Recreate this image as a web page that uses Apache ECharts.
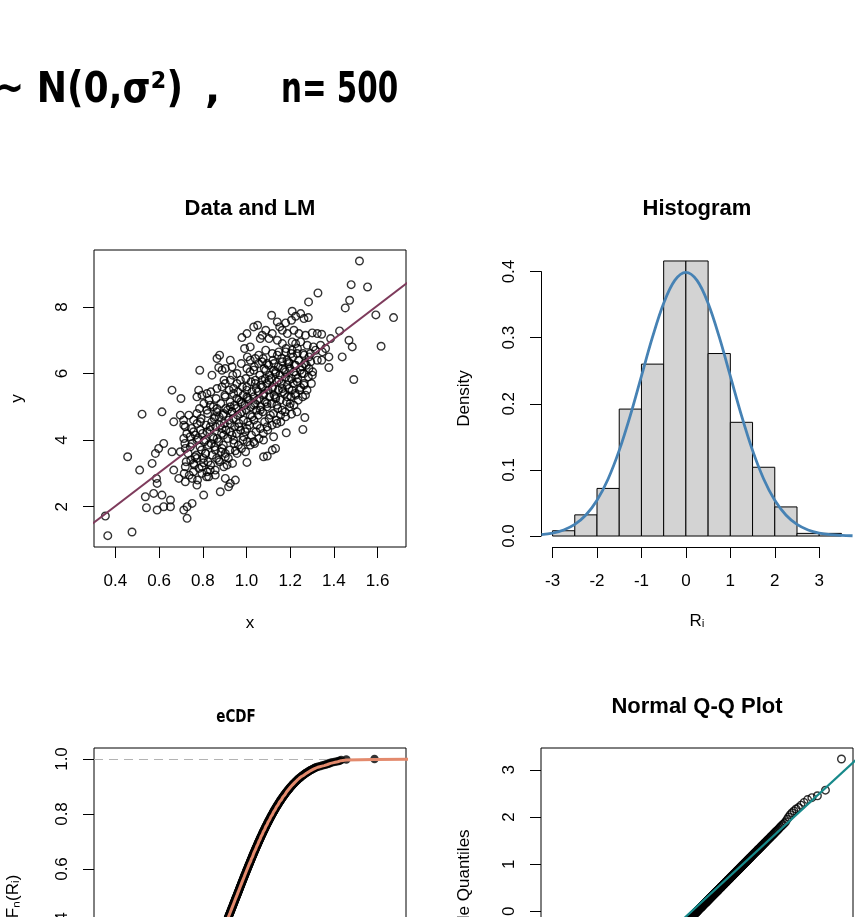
<!DOCTYPE html>
<html><head><meta charset="utf-8">
<script src="https://cdn.jsdelivr.net/npm/echarts@6/dist/echarts.min.js"></script>
<style>html,body{margin:0;padding:0;background:#fff}#c{width:856px;height:917px}</style>
</head><body><div id="c"></div>
<script>
// ---------------- DATA ----------------
// Panel 1: scatter of (x, y) pairs
const scatterPoints = [
[1.517,9.38],[1.479,8.67],[1.554,8.60],[1.327,8.42],
[1.284,8.15],[1.472,8.20],[1.452,7.97],[1.209,7.87],[1.225,7.72],[1.248,7.80],[1.263,7.65],[1.592,7.76],
[1.115,7.75],[1.673,7.68],[1.141,7.55],[1.179,7.52],[1.206,7.60],[1.283,7.68],[1.051,7.45],[1.033,7.40],[1.152,7.40],
[1.002,7.20],[0.979,7.08],[1.063,7.05],[1.088,7.30],[1.118,7.20],[1.103,7.05],[1.072,7.15],[1.164,7.30],[1.187,7.20],[1.217,7.30],[1.240,7.20],[1.270,7.15],[1.301,7.22],[1.324,7.20],[1.344,7.18],[1.426,7.28],[1.385,7.05],
[1.469,7.00],[1.484,6.80],[1.616,6.82],[1.141,7.00],[1.164,6.90],[1.209,6.95],[1.248,6.95],[1.278,6.85],[1.339,6.85],[1.362,6.75],[1.316,6.70],[1.347,6.65],[0.991,6.75],[1.017,6.80],[1.088,6.70],[1.118,6.60],[1.148,6.65],[1.179,6.65],[1.209,6.70],[1.232,6.60],[1.263,6.55],[1.293,6.60],
[0.877,6.55],[0.865,6.45],[0.926,6.40],[1.017,6.40],[1.040,6.45],[1.055,6.30],[1.072,6.35],[1.095,6.30],[1.126,6.30],[1.164,6.35],[1.194,6.30],[1.225,6.25],[1.255,6.20],[1.286,6.15],[1.324,6.40],[1.344,6.40],[1.438,6.50],[1.377,6.50],[1.377,6.18],
[0.786,6.10],[0.842,5.95],[0.873,6.18],[0.888,6.10],[0.903,6.15],[0.934,6.20],[0.956,6.00],[0.926,5.80],[1.002,6.15],[1.033,6.10],[1.088,6.10],[1.133,6.05],[1.179,6.05],[1.217,6.05],[1.263,6.00],[1.301,5.95],[1.491,5.82],
[0.972,5.80],[1.002,5.60],[1.040,5.70],[1.071,5.80],[1.103,5.80],[1.148,5.80],[1.194,5.80],[1.232,5.75],[1.263,5.70],[1.118,5.55],[1.164,5.55],[1.209,5.50],[1.248,5.58],[0.659,5.50],[0.781,5.50],[0.796,5.35],[0.819,5.40],[0.865,5.55],[0.903,5.70],[0.941,5.55],
[1.270,5.35],[1.225,5.35],[1.187,5.30],[1.133,5.30],[0.700,5.25],[0.773,5.30],[0.834,5.05],[0.903,5.30],[0.956,5.25],[1.002,5.30],[1.048,5.20],[1.078,5.35],[0.979,5.10],[0.926,5.00],[1.033,5.05],[1.094,5.10],[1.139,5.05],[1.200,5.10],
[0.522,4.78],[0.613,4.85],[0.697,4.75],[0.667,4.55],[0.712,4.60],[0.773,4.80],[0.819,4.90],[0.865,4.95],[0.857,4.70],[0.895,4.80],[0.934,4.85],[0.972,4.80],[1.017,4.75],[1.063,4.90],[1.109,4.75],[1.156,4.75],[1.179,4.70],[1.206,4.78],[1.231,4.85],[1.267,4.68],
[0.720,4.40],[0.758,4.25],[0.789,4.30],[0.834,4.40],[0.888,4.35],[0.926,4.50],[0.964,4.40],[1.002,4.35],[1.048,4.45],[1.094,4.40],[1.139,4.50],[1.258,4.32],[1.182,4.22],[0.789,4.55],
[0.621,3.90],[0.598,3.75],[0.583,3.60],[0.713,4.05],[0.720,3.75],[0.773,4.00],[0.743,3.80],[0.812,4.00],[0.850,4.05],[0.895,4.15],[0.941,4.00],[0.987,4.10],[1.033,3.95],[1.078,4.00],[1.124,4.10],[1.133,3.75],[1.095,3.52],[1.118,3.70],[0.659,3.65],
[0.456,3.50],[0.697,3.65],[0.773,3.45],[0.812,3.60],[0.857,3.70],[0.903,3.60],[0.949,3.68],[0.888,3.75],[1.002,3.33],[1.078,3.50],
[0.511,3.10],[0.568,3.30],[0.667,3.10],[0.720,3.20],[0.758,3.30],[0.804,3.32],[0.873,3.40],[0.911,3.25],[0.834,3.10],[0.796,3.00],[0.819,3.05],
[0.588,2.85],[0.591,2.70],[0.690,2.85],[0.720,2.75],[0.751,2.85],[0.773,2.65],[0.827,2.90],[0.857,2.95],[0.903,2.85],[0.926,2.70],[0.949,2.80],[0.918,2.60],
[0.537,2.30],[0.575,2.40],[0.613,2.35],[0.652,2.20],[0.652,2.00],[0.621,2.00],[0.542,1.97],[0.591,1.90],[0.804,2.35],[0.880,2.45],[0.751,2.10],[0.728,2.00],[0.713,1.90],[0.728,1.65],
[0.354,1.72],[0.365,1.13],[0.476,1.24],
[0.715,3.0],[0.724,3.35],[0.718,3.9],[0.727,4.2],[0.713,4.45],
[0.738,2.95],[0.745,3.4],[0.733,3.6],[0.742,4.1],[0.748,4.35],[0.736,4.75],
[0.757,3.05],[0.764,3.5],[0.752,3.9],[0.766,4.15],[0.758,4.6],[0.761,3.25],
[0.776,2.8],[0.783,3.15],[0.771,3.55],[0.787,3.8],[0.779,4.05],[0.774,4.5],[0.785,4.95],
[0.797,3.2],[0.803,3.45],[0.794,3.7],[0.806,3.95],[0.799,4.2],[0.792,4.65],[0.805,5.1],
[0.817,2.9],[0.824,3.35],[0.813,3.6],[0.826,3.85],[0.819,4.25],[0.815,4.45],[0.822,4.8],[0.828,5.2],
[0.836,3.25],[0.843,3.55],[0.838,3.9],[0.846,4.1],[0.833,4.3],[0.841,4.55],[0.848,5.0],[0.837,5.45],
[0.857,3.1],[0.863,3.45],[0.854,3.8],[0.866,4.05],[0.859,4.4],[0.852,4.65],[0.864,4.85],[0.861,5.25],
[0.877,3.35],[0.884,3.65],[0.873,3.95],[0.886,4.2],[0.879,4.45],[0.875,4.7],[0.882,5.1],[0.888,5.6],
[0.896,3.2],[0.903,3.5],[0.894,3.85],[0.906,4.3],[0.899,4.5],[0.893,4.75],[0.905,4.95],[0.901,5.35],[0.897,5.8],
[0.917,3.45],[0.923,3.7],[0.914,4.05],[0.926,4.25],[0.919,4.6],[0.913,4.9],[0.925,5.15],[0.921,5.5],
[0.936,3.3],[0.943,3.9],[0.934,4.15],[0.946,4.4],[0.939,4.65],[0.933,4.85],[0.945,5.05],[0.941,5.4],[0.937,5.95],
[0.957,3.6],[0.963,3.85],[0.954,4.2],[0.966,4.5],[0.959,4.75],[0.953,4.95],[0.965,5.2],[0.961,5.45],[0.956,5.7],
[0.977,3.75],[0.984,4.0],[0.973,4.3],[0.986,4.6],[0.979,4.85],[0.974,5.15],[0.985,5.35],[0.981,5.6],[0.976,6.3],
[0.996,3.65],[1.003,3.95],[0.994,4.25],[1.006,4.55],[0.999,4.9],[0.993,5.05],[1.005,5.25],[1.001,5.5],[0.997,5.85],[1.004,6.5],
[1.017,3.85],[1.023,4.15],[1.014,4.45],[1.026,4.7],[1.019,5.0],[1.013,5.2],[1.025,5.45],[1.021,5.75],[1.016,6.05],
[1.037,3.9],[1.043,4.25],[1.034,4.6],[1.046,4.9],[1.039,5.1],[1.033,5.3],[1.045,5.55],[1.041,5.8],[1.036,6.2],
[1.057,4.05],[1.063,4.35],[1.054,4.75],[1.066,5.0],[1.059,5.25],[1.053,5.45],[1.065,5.65],[1.061,5.95],[1.056,6.55],
[1.077,4.2],[1.083,4.55],[1.074,4.85],[1.086,5.15],[1.079,5.4],[1.073,5.6],[1.085,5.85],[1.081,6.15],[1.076,6.45],
[1.097,4.3],[1.103,4.65],[1.094,5.0],[1.106,5.3],[1.099,5.5],[1.093,5.7],[1.105,5.95],[1.101,6.25],
[1.117,4.45],[1.123,4.8],[1.114,5.1],[1.126,5.35],[1.119,5.6],[1.113,5.85],[1.125,6.1],[1.121,6.4],
[1.137,4.6],[1.143,4.95],[1.134,5.25],[1.146,5.5],[1.139,5.75],[1.133,6.0],[1.145,6.2],[1.141,6.55],
[1.157,4.55],[1.163,4.9],[1.154,5.2],[1.166,5.45],[1.159,5.7],[1.153,5.95],[1.165,6.15],[1.161,6.45],
[1.177,4.85],[1.183,5.15],[1.174,5.4],[1.186,5.65],[1.179,5.9],[1.173,6.1],[1.185,6.4],[1.181,6.75],
[1.197,5.0],[1.203,5.3],[1.194,5.55],[1.206,5.85],[1.199,6.15],[1.193,6.35],[1.205,6.6],
[1.217,5.05],[1.223,5.4],[1.214,5.7],[1.226,5.95],[1.219,6.25],[1.213,6.5],[1.225,6.9],
[1.237,5.2],[1.243,5.5],[1.234,5.85],[1.246,6.1],[1.239,6.4],[1.233,6.75],
[1.257,5.3],[1.263,5.65],[1.254,6.0],[1.266,6.3],[1.259,6.6],
[1.277,5.5],[1.283,5.9],[1.274,6.25],[1.286,6.5],
[1.297,5.7],[1.303,6.05],[1.294,6.35],[1.306,6.8]
];
// fitted regression line (end points)
const lmLine = [[0.25, 1.265], [1.80, 9.046]];
const scatterXTicks = [0.4, 0.6, 0.8, 1.0, 1.2, 1.4, 1.6];
const scatterYTicks = [2, 4, 6, 8];

// Panel 2: histogram of residuals (density) + normal curve
const histBreaks  = [-3, -2.5, -2, -1.5, -1, -0.5, 0, 0.5, 1, 1.5, 2, 2.5, 3, 3.5];
const histDensity = [0.008, 0.032, 0.072, 0.192, 0.26, 0.416, 0.416, 0.276, 0.172, 0.104, 0.044, 0.004, 0.004];
const normX       = [-3.25,-3,-2.75,-2.5,-2.25,-2,-1.75,-1.5,-1.25,-1,-0.75,-0.5,-0.25,0,0.25,0.5,0.75,1,1.25,1.5,1.75,2,2.25,2.5,2.75,3,3.25,3.5,3.75];
const normDensity = [0.0020,0.0044,0.0091,0.0175,0.0317,0.0540,0.0863,0.1295,0.1826,0.2420,0.3011,0.3521,0.3867,0.3989,0.3867,0.3521,0.3011,0.2420,0.1826,0.1295,0.0863,0.0540,0.0317,0.0175,0.0091,0.0044,0.0020,0.0009,0.0004];
const histXTicks = [-3, -2, -1, 0, 1, 2, 3];
const histYTicks = [0, 0.1, 0.2, 0.3, 0.4];

// Panels 3 & 4: sorted residuals R_i (n = 500), estimated from the eCDF / Q-Q picture
const residualsLow = [
-2.58,-2.52,-2.43,-2.36,-2.29,-2.23,-2.18,-2.13,-2.09,-2.05,-2.01,-1.98,-1.95,-1.92,-1.89,
-1.866,-1.841,-1.815,-1.790,-1.765,-1.739,-1.718,-1.698,-1.677,-1.656,-1.635,-1.617,-1.600,-1.582,-1.564,
-1.546,-1.531,-1.515,-1.500,-1.484,-1.468,-1.454,-1.440,-1.426,-1.412,-1.398,-1.386,-1.373,-1.360,-1.347,
-1.335,-1.323,-1.311,-1.300,-1.288,-1.276,-1.265,-1.255,-1.244,-1.234,-1.223,-1.212,-1.202,-1.191,-1.181,
-1.170,-1.161,-1.151,-1.142,-1.132,-1.123,-1.114,-1.104,-1.095,-1.085,-1.076,-1.067,-1.058,-1.050,-1.041,
-1.033,-1.024,-1.016,-1.007,-0.999,-0.990,-0.983,-0.975,-0.967,-0.959,-0.951,-0.943,-0.935,-0.927,-0.919,
-0.911,-0.904,-0.896,-0.889,-0.882,-0.875,-0.867,-0.860,-0.853,-0.845,-0.838,-0.831,-0.824,-0.817,-0.811,
-0.804,-0.797,-0.790,-0.783,-0.776,-0.769,-0.762,-0.756,-0.749,-0.743,-0.736,-0.730,-0.723,-0.716,-0.710,
-0.703,-0.697,-0.691,-0.684,-0.678,-0.672,-0.665,-0.659,-0.653,-0.647,-0.640,-0.634,-0.628,-0.622,-0.616,
-0.610,-0.604,-0.598,-0.592,-0.586,-0.580,-0.574,-0.568,-0.562,-0.557,-0.551,-0.545,-0.539,-0.533,-0.527,
-0.522,-0.516,-0.510,-0.505,-0.499,-0.493,-0.488,-0.482,-0.476,-0.471,-0.465,-0.459,-0.454,-0.448,-0.443,
-0.437,-0.432,-0.426,-0.421,-0.415,-0.410,-0.404,-0.399,-0.394,-0.388,-0.383,-0.377,-0.372,-0.367,-0.361,
-0.356,-0.351,-0.345,-0.340,-0.335,-0.330,-0.324,-0.319,-0.314,-0.308,-0.303,-0.298,-0.293,-0.287,-0.282,
-0.277,-0.272,-0.266,-0.261,-0.256,-0.251,-0.246,-0.240,-0.235,-0.230,-0.225,-0.220,-0.215,-0.210,-0.204,
-0.199,-0.194,-0.189,-0.184,-0.179,-0.174,-0.169,-0.164,-0.158,-0.153,-0.148,-0.143,-0.138,-0.133,-0.128,
-0.123,-0.118,-0.113,-0.108,-0.103,-0.098,-0.093,-0.088,-0.083,-0.078,-0.073,-0.068,-0.063,-0.058,-0.053,
-0.048,-0.043,-0.038,-0.033,-0.028,-0.023,-0.018,-0.013,-0.008,-0.003
];
const residualsHigh = [
0.003,0.008,0.013,0.018,0.023,0.028,0.033,0.038,0.043,0.048,
0.053,0.058,0.063,0.068,0.073,0.078,0.083,0.088,0.093,0.098,
0.103,0.108,0.113,0.118,0.123,0.128,0.133,0.138,0.143,0.148,
0.153,0.158,0.164,0.169,0.174,0.179,0.184,0.189,0.194,0.199,
0.204,0.210,0.215,0.220,0.225,0.230,0.235,0.240,0.246,0.251,
0.256,0.261,0.266,0.272,0.277,0.282,0.287,0.293,0.298,0.303,
0.308,0.314,0.319,0.324,0.330,0.335,0.340,0.345,0.351,0.356,
0.361,0.367,0.372,0.377,0.383,0.388,0.394,0.399,0.404,0.410,
0.415,0.421,0.426,0.432,0.437,0.443,0.448,0.454,0.459,0.465,
0.471,0.476,0.482,0.488,0.493,0.499,0.505,0.510,0.516,0.522,
0.527,0.533,0.539,0.545,0.551,0.557,0.562,0.568,0.574,0.580,
0.586,0.592,0.598,0.604,0.610,0.616,0.622,0.628,0.634,0.640,
0.647,0.653,0.659,0.665,0.672,0.678,0.684,0.691,0.697,0.703,
0.710,0.716,0.723,0.730,0.736,0.743,0.749,0.756,0.762,0.769,
0.776,0.783,0.790,0.797,0.804,0.811,0.817,0.824,0.831,0.838,
0.845,0.853,0.860,0.867,0.875,0.882,0.889,0.896,0.904,0.911,
0.919,0.927,0.935,0.943,0.951,0.959,0.967,0.975,0.983,0.990,
0.999,1.007,1.016,1.024,1.033,1.041,1.050,1.058,1.067,1.076,
1.085,1.095,1.104,1.114,1.123,1.132,1.142,1.151,1.161,1.170,
1.181,1.191,1.202,1.212,1.223,1.234,1.244,1.255,1.265,1.276,
1.288,1.300,1.311,1.323,1.335,1.347,1.360,1.373,1.386,1.398,
1.412,1.426,1.440,1.454,1.468,1.484,1.500,1.515,1.531,1.546,
1.564,1.582,1.600,1.617,1.635,1.656,1.677,1.698,1.718,1.739,
1.765,1.790,1.815,1.841,1.866,
1.90,1.95,2.00,2.05,2.09,2.13,2.17,2.20,2.25,2.31,2.37,2.41,2.45,2.57,3.23
];
const ecdfYTicks = [0, 0.2, 0.4, 0.6, 0.8, 1.0];
const ecdfRefLevels = [0, 1];
const qqLine = [[-3.5, -3.093], [3.5, 3.305]];
const qqYTicks = [-2, -1, 0, 1, 2, 3];
const qqXTicks = [-3, -2, -1, 0, 1, 2, 3];

// ---------------- LAYOUT / STYLE ----------------
const FONT = "'Liberation Sans', Arial, Helvetica, sans-serif";
const PW = 312, PH = 297;
const POS = { scatter:[94,250], hist:[541,250], ecdf:[94,748], qq:[541,748] };
const R = {
  scatterX:[0.302,1.73], scatterY:[0.79,9.71],
  histX:[-3.26,3.76], histY:[-0.0166,0.4326],
  ecdfX:[-3.337,3.967], ecdfY:[-0.04,1.04],
  qqX:[-3.337,3.337], qqY:[-2.833,3.463]
};
const C = { lm:'#7E3B5C', curve:'#4682B4', salmon:'#E38A6D', teal:'#17898A', bar:'#D3D3D3' };

// standard normal quantile (Acklam) for the Q-Q plot's theoretical axis
function qnorm(p){
  const a=[-3.969683028665376e+01,2.209460984245205e+02,-2.759285104469687e+02,1.383577518672690e+02,-3.066479806614716e+01,2.506628277459239e+00];
  const b=[-5.447609879822406e+01,1.615858368580409e+02,-1.556989798598866e+02,6.680131188771972e+01,-1.328068155288572e+01];
  const c=[-7.784894002430293e-03,-3.223964580411365e-01,-2.400758277161838e+00,-2.549732539343734e+00,4.374664141464968e+00,2.938163982698783e+00];
  const d=[7.784695709041462e-03,3.224671290700398e-01,2.445134137142996e+00,3.754408661907416e+00];
  const pl=0.02425;
  let q,r;
  if(p<pl){q=Math.sqrt(-2*Math.log(p));return (((((c[0]*q+c[1])*q+c[2])*q+c[3])*q+c[4])*q+c[5])/((((d[0]*q+d[1])*q+d[2])*q+d[3])*q+1);}
  if(p<=1-pl){q=p-0.5;r=q*q;return (((((a[0]*r+a[1])*r+a[2])*r+a[3])*r+a[4])*r+a[5])*q/(((((b[0]*r+b[1])*r+b[2])*r+b[3])*r+b[4])*r+1);}
  q=Math.sqrt(-2*Math.log(1-p));return -(((((c[0]*q+c[1])*q+c[2])*q+c[3])*q+c[4])*q+c[5])/((((d[0]*q+d[1])*q+d[2])*q+d[3])*q+1);
}

const residuals = residualsLow.concat(residualsHigh);
const n = residuals.length;
const ecdfPts = residuals.map((v,i)=>[v,(i+1)/n]);
const ecdfStep = [[R.ecdfX[0]-1,0]].concat(ecdfPts,[[R.ecdfX[1]+1,1]]);
const qqPts = residuals.map((v,i)=>[qnorm((i+0.5)/n), v]);
const histData = histDensity.map((d,i)=>[histBreaks[i],histBreaks[i+1],d]);
const normCurve = normX.map((x,i)=>[x,normDensity[i]]);

// histogram axis grid spans only the tick range (R draws axis lines tick-to-tick)
const hpx = PW/(R.histX[1]-R.histX[0]), hpy = PH/(R.histY[1]-R.histY[0]);
const hYMax = histYTicks[histYTicks.length-1];
const hAx = {
  left: POS.hist[0] + (histXTicks[0]-R.histX[0])*hpx,
  width: (histXTicks[histXTicks.length-1]-histXTicks[0])*hpx,
  top: POS.hist[1] + (R.histY[1]-hYMax)*hpy,
  height: (hYMax-histYTicks[0])*hpy
};
const hOffX = (POS.hist[1]+PH) - (hAx.top+hAx.height);
const hOffY = hAx.left - POS.hist[0];

const txt = {fontSize:17, color:'#000', fontFamily:FONT};
const XLAB_MARGIN = 26, YLAB_MARGIN = 23, XNAME_GAP = 68, YNAME_GAP = 68;
function grid(p, border){
  return {left:p[0], top:p[1], width:PW, height:PH, show:border, borderColor:'#000', borderWidth:1,
          backgroundColor:'transparent', containLabel:false, outerBoundsMode:'none'};
}
function boxAxis(gi, range, ticks, fmt, name, isY, nameGap){
  return {
    gridIndex:gi, type:'value', min:range[0], max:range[1],
    axisLine:{show:false, onZero:false},
    axisTick:{show:true, length:11, customValues:ticks, lineStyle:{color:'#000', width:1}},
    axisLabel:Object.assign({show:true, customValues:ticks, formatter:fmt, margin:isY?YLAB_MARGIN:XLAB_MARGIN, rotate:isY?90:0}, txt),
    splitLine:{show:false},
    name:name, nameLocation:'middle', nameGap:nameGap, nameRotate:isY?90:0,
    nameTextStyle:Object.assign({}, txt)
  };
}
const f1 = v=>Number(v).toFixed(1);
const f0 = v=>String(Math.round(v));
const titleStyle = {fontSize:22, fontWeight:'bold', fontFamily:FONT, color:'#000'};
const ringStyle = {color:'rgba(0,0,0,0)', borderColor:'#000', borderWidth:1.4};

const option = {
  animation:false,
  backgroundColor:'#fff',
  title:[
    {text:'Data and LM', left:250, top:198, textAlign:'center', padding:0, textStyle:titleStyle},
    {text:'Histogram', left:697, top:198, textAlign:'center', padding:0, textStyle:titleStyle},
    {text:'Normal Q-Q Plot', left:697, top:696, textAlign:'center', padding:0, textStyle:titleStyle}
  ],
  graphic:[
    {type:'text', x:-6, y:112, scaleX:0.86, style:{text:'~ N(0,σ²)', font:"bold 42px 'DejaVu Sans'", fill:'#000', verticalAlign:'bottom'}},
    {type:'text', x:205, y:112, style:{text:',', font:"bold 40px 'DejaVu Sans'", fill:'#000', verticalAlign:'bottom'}},
    {type:'text', x:281, y:112, scaleX:0.7, style:{text:'n= 500', font:"bold 42px 'DejaVu Sans'", fill:'#000', verticalAlign:'bottom'}},
    {type:'text', x:236, y:717, scaleX:0.75, style:{text:'eCDF', font:"bold 18px 'DejaVu Sans'", fill:'#000', align:'center', verticalAlign:'middle'}}
  ],
  grid:[
    grid(POS.scatter, true),
    grid(POS.hist, false),
    {left:hAx.left, top:hAx.top, width:hAx.width, height:hAx.height, show:false, containLabel:false, outerBoundsMode:'none'},
    grid(POS.ecdf, true),
    grid(POS.qq, true)
  ],
  xAxis:[
    boxAxis(0, R.scatterX, scatterXTicks, f1, 'x', false, XNAME_GAP),
    {gridIndex:1, type:'value', min:R.histX[0], max:R.histX[1], axisLine:{show:false, onZero:false}, axisTick:{show:false}, axisLabel:{show:false}, splitLine:{show:false},
     name:'Rᵢ', nameLocation:'middle', nameGap:XNAME_GAP-2, nameTextStyle:Object.assign({}, txt)},
    {gridIndex:2, type:'value', min:histXTicks[0], max:histXTicks[histXTicks.length-1], interval:1, offset:hOffX,
     axisLine:{show:true, onZero:false, lineStyle:{color:'#000', width:1}}, axisTick:{show:true, length:11, lineStyle:{color:'#000'}},
     axisLabel:Object.assign({margin:XLAB_MARGIN, formatter:f0}, txt), splitLine:{show:false}},
    boxAxis(3, R.ecdfX, qqXTicks, f0, 'Rᵢ', false, XNAME_GAP),
    boxAxis(4, R.qqX, qqXTicks, f0, 'Theoretical Quantiles', false, XNAME_GAP)
  ],
  yAxis:[
    boxAxis(0, R.scatterY, scatterYTicks, f0, 'y', true, YNAME_GAP),
    {gridIndex:1, type:'value', min:R.histY[0], max:R.histY[1], axisLine:{show:false, onZero:false}, axisTick:{show:false}, axisLabel:{show:false}, splitLine:{show:false},
     name:'Density', nameLocation:'middle', nameGap:YNAME_GAP, nameRotate:90, nameTextStyle:Object.assign({}, txt)},
    {gridIndex:2, type:'value', min:histYTicks[0], max:hYMax, interval:0.1, offset:hOffY,
     axisLine:{show:true, onZero:false, lineStyle:{color:'#000', width:1}}, axisTick:{show:true, length:11, lineStyle:{color:'#000'}},
     axisLabel:Object.assign({margin:YLAB_MARGIN, rotate:90, formatter:f1}, txt), splitLine:{show:false}},
    boxAxis(3, R.ecdfY, ecdfYTicks, f1, 'Fₙ(Rᵢ)', true, YNAME_GAP+4),
    boxAxis(4, R.qqY, qqYTicks, f0, 'Sample Quantiles', true, YNAME_GAP)
  ],
  series:[
    {type:'scatter', xAxisIndex:0, yAxisIndex:0, data:scatterPoints, symbol:'circle', symbolSize:7.6, silent:true,
     itemStyle:ringStyle, z:2},
    {type:'line', xAxisIndex:0, yAxisIndex:0, data:lmLine, symbol:'none', clip:true, silent:true,
     lineStyle:{color:C.lm, width:2}, z:3},
    {type:'custom', xAxisIndex:1, yAxisIndex:1, data:histData, encode:{x:[0,1], y:2}, silent:true, clip:false,
     renderItem:(params, api)=>{
       const p0 = api.coord([api.value(0), api.value(2)]);
       const p1 = api.coord([api.value(1), 0]);
       return {type:'rect', shape:{x:p0[0], y:p0[1], width:p1[0]-p0[0], height:p1[1]-p0[1]},
               style:{fill:C.bar, stroke:'#000', lineWidth:1}};
     }, z:2},
    {type:'line', xAxisIndex:1, yAxisIndex:1, data:normCurve, smooth:0.35, symbol:'none', clip:true, silent:true,
     lineStyle:{color:C.curve, width:2.8}, z:3},
    {type:'scatter', xAxisIndex:3, yAxisIndex:3, data:ecdfPts, symbol:'circle', symbolSize:8.5, silent:true,
     itemStyle:{color:'#000'}, z:2,
     markLine:{silent:true, symbol:'none', label:{show:false}, lineStyle:{color:'#B3B3B3', type:[9,6], width:1},
               data:ecdfRefLevels.map(v=>({yAxis:v})), z:1}},
    {type:'line', xAxisIndex:3, yAxisIndex:3, data:ecdfStep, step:'end', symbol:'none', clip:true, silent:true,
     lineStyle:{color:C.salmon, width:3}, z:3},
    {type:'scatter', xAxisIndex:4, yAxisIndex:4, data:qqPts, symbol:'circle', symbolSize:7.6, silent:true,
     itemStyle:ringStyle, z:2},
    {type:'line', xAxisIndex:4, yAxisIndex:4, data:qqLine, symbol:'none', clip:true, silent:true,
     lineStyle:{color:C.teal, width:2.2}, z:3}
  ]
};
const chart = echarts.init(document.getElementById('c'), null, {renderer:'canvas'});
chart.setOption(option);
</script></body></html>
